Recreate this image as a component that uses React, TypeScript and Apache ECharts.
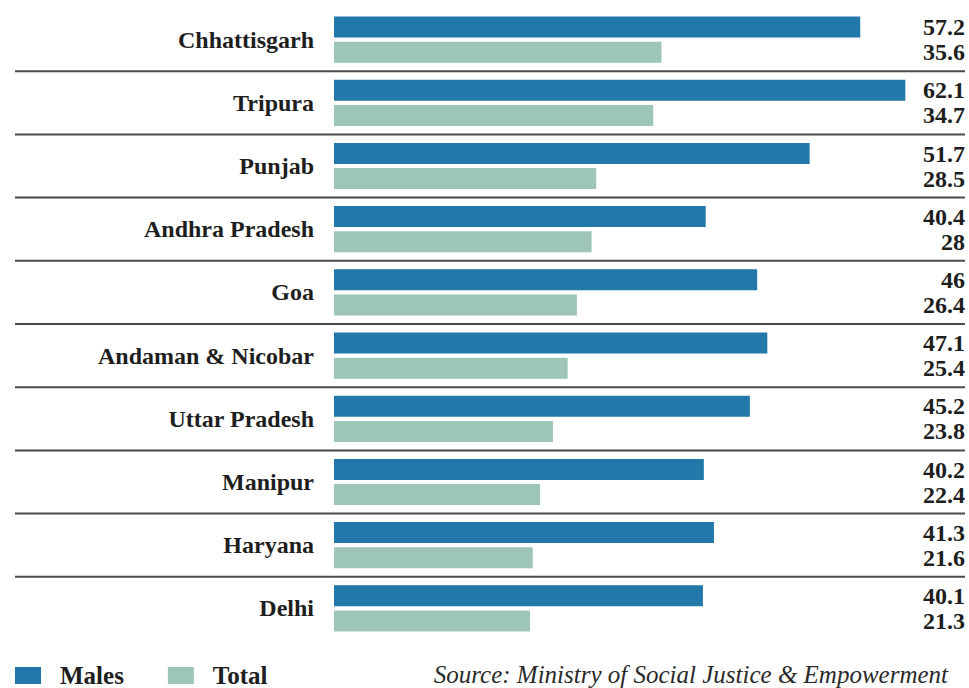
import React, { useEffect, useRef } from "react";
import * as echarts from "echarts";

const categories = [
  "Chhattisgarh",
  "Tripura",
  "Punjab",
  "Andhra Pradesh",
  "Goa",
  "Andaman & Nicobar",
  "Uttar Pradesh",
  "Manipur",
  "Haryana",
  "Delhi",
];
const malesValues = [57.2, 62.1, 51.7, 40.4, 46, 47.1, 45.2, 40.2, 41.3, 40.1];
const totalValues = [35.6, 34.7, 28.5, 28, 26.4, 25.4, 23.8, 22.4, 21.6, 21.3];
const seriesNames = ["Males", "Total"];
const sourceText = "Source: Ministry of Social Justice & Empowerment";

const BLUE = "#2178a9";
const SAGE = "#9dc6b9";
const TEXT = "#1e1e1e";
const FONT = "Liberation Serif, DejaVu Serif, serif";

export default function App() {
  const ref = useRef<HTMLDivElement>(null);

  useEffect(() => {
    document.body.style.margin = "0";
    if (!ref.current) return;
    const chart = echarts.init(ref.current, null, { renderer: "svg" });

    const labelData = categories.map((_, i) => [i, malesValues[i], totalValues[i]]);

    chart.setOption({
      animation: false,
      backgroundColor: "#ffffff",
      grid: { left: 334, right: 37, top: 8, bottom: 48, containLabel: false },
      xAxis: {
        type: "value",
        min: 0,
        max: 65,
        show: false,
      },
      yAxis: {
        type: "category",
        data: categories,
        inverse: true,
        axisLine: { show: false },
        axisTick: { show: false },
        splitLine: { show: false },
        axisLabel: {
          margin: 20,
          color: TEXT,
          fontFamily: FONT,
          fontWeight: "bold",
          fontSize: 24,
        },
      },
      legend: {
        left: 15,
        top: 663,
        padding: 0,
        itemWidth: 26,
        itemHeight: 17,
        itemGap: 44,
        icon: "rect",
        data: seriesNames,
        textStyle: {
          color: TEXT,
          fontFamily: FONT,
          fontWeight: "bold",
          fontSize: 25,
          lineHeight: 20,
          padding: [0, 0, 0, 14],
        },
      },
      graphic: [
        {
          type: "text",
          right: 21,
          top: 662,
          style: {
            text: sourceText,
            fill: "#2a2a2a",
            font: `italic 25px ${FONT}`,
          },
        },
      ],
      series: [
        {
          name: seriesNames[0],
          type: "bar",
          data: malesValues,
          barWidth: 21,
          barGap: "20%",
          itemStyle: { color: BLUE },
        },
        {
          name: seriesNames[1],
          type: "bar",
          data: totalValues,
          barWidth: 21,
          barGap: "20%",
          itemStyle: { color: SAGE },
        },
        {
          type: "custom",
          clip: false,
          silent: true,
          data: labelData,
          encode: { x: 1, y: 0 },
          renderItem: (params: any, api: any) => {
            const idx = api.value(0);
            const center = api.coord([0, idx]);
            const band = api.size([0, 1])[1];
            const cs = params.coordSys;
            const xRight = cs.x + cs.width + 33;
            const children: any[] = [
              {
                type: "text",
                style: {
                  x: xRight,
                  y: center[1] - 12.5,
                  text: String(api.value(1)),
                  textAlign: "right",
                  textVerticalAlign: "middle",
                  fill: TEXT,
                  font: `bold 24px ${FONT}`,
                },
              },
              {
                type: "text",
                style: {
                  x: xRight,
                  y: center[1] + 12.5,
                  text: String(api.value(2)),
                  textAlign: "right",
                  textVerticalAlign: "middle",
                  fill: TEXT,
                  font: `bold 24px ${FONT}`,
                },
              },
            ];
            if (idx < categories.length - 1) {
              const yLine = center[1] + band / 2;
              children.push({
                type: "line",
                shape: { x1: 15, y1: yLine, x2: 965, y2: yLine },
                style: { stroke: "#4a4a4a", lineWidth: 2 },
              });
            }
            return { type: "group", children };
          },
        },
      ],
    });

    return () => chart.dispose();
  }, []);

  return (
    <div
      ref={ref}
      style={{ position: "fixed", left: 0, top: 0, width: 969, height: 688 }}
    />
  );
}
